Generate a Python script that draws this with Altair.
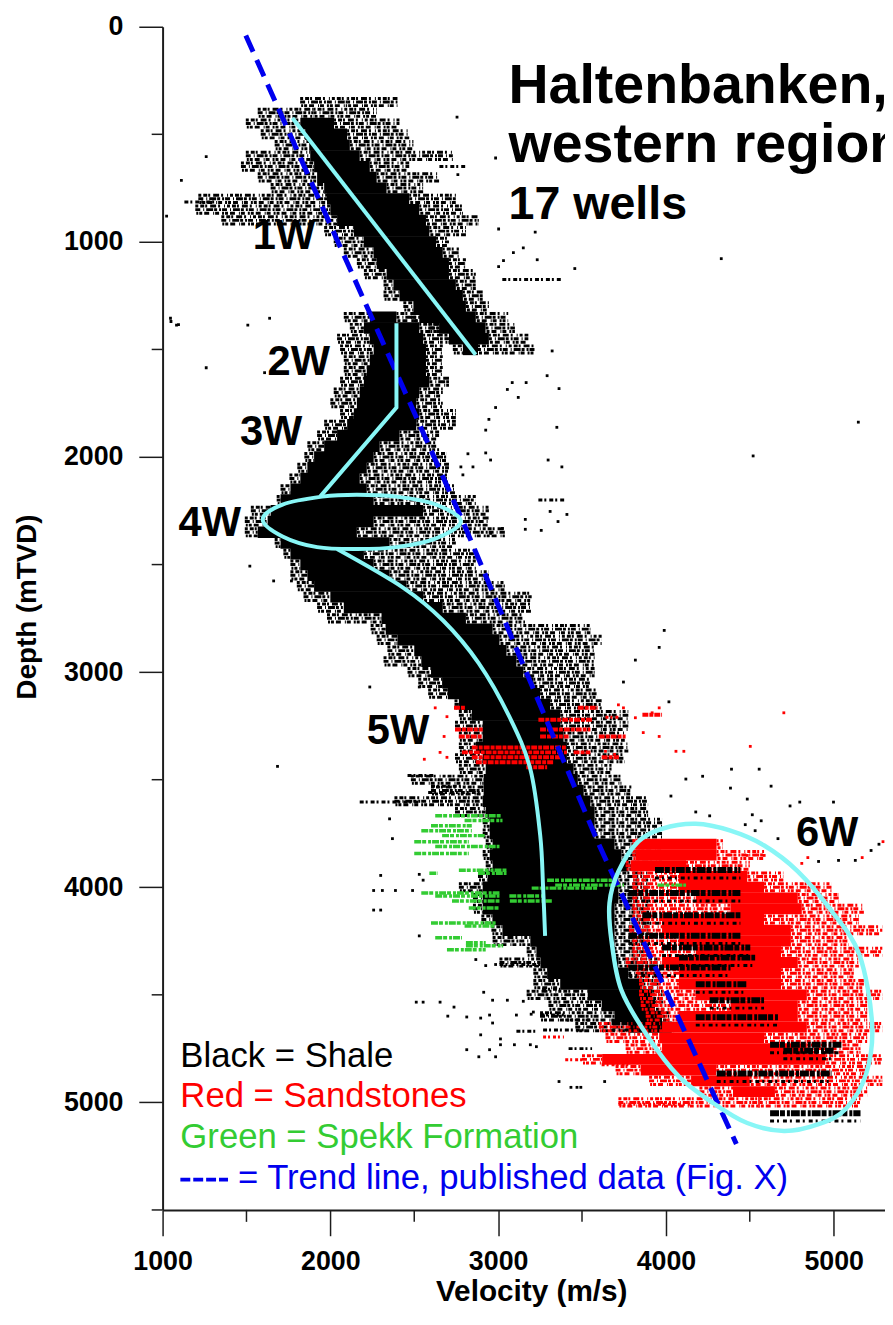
import altair as alt
import pandas as pd

# ---- axis ticks
major_x = [1000, 2000, 3000, 4000, 5000]
minor_x = [1500, 2500, 3500, 4500]
major_y = [0, 1000, 2000, 3000, 4000, 5000]
minor_y = [500, 1500, 2500, 3500, 4500, 5500]

# ---- trend lines (velocity, depth)
trend_published = [(1496, 41), (2790, 2300), (3593, 3788), (4420, 5193)]
trend_1w = [(1774, 424), (2866, 1525)]
trend_2w3w = [(2394, 1378), (2394, 1770), (1939, 2184)]
trend_5w = [(2040, 2428), (2435, 2608), (2672, 2760), (2884, 2958), (3067, 3207),
            (3192, 3451), (3251, 3760), (3268, 4000), (3280, 4226)]
ellipse_4w = [(1597, 2290), (1715, 2221), (1951, 2184), (2158, 2175), (2394, 2184), (2630, 2221),
              (2778, 2299), (2630, 2378), (2394, 2419), (2158, 2428), (1921, 2419), (1715, 2369)]
ellipse_6w = [(3676, 4249), (3664, 4073), (3717, 3926), (3835, 3788), (3977, 3728), (4178, 3705),
              (4385, 3737), (4586, 3806), (4786, 3926), (4987, 4110), (5153, 4313), (5229, 4636),
              (5194, 4866), (5070, 5032), (4910, 5101), (4704, 5133), (4485, 5096), (4284, 5004),
              (4078, 4880), (3894, 4696), (3735, 4479)]

# ---- shale cloud: depth, scatter left, dense left, dense right, scatter right
shale_upper = [
    (350, 1820, 2100, 2100, 2400), (400, 1567, 1900, 1900, 2276), (450, 1496, 1821, 2022, 2412),
    (500, 1585, 1850, 2100, 2470), (550, 1668, 1874, 2116, 2495), (600, 1496, 1880, 2175, 2730),
    (650, 1467, 1903, 2235, 2470), (700, 1567, 1921, 2276, 2648), (750, 1644, 1963, 2335, 2553),
    (800, 1213, 1980, 2470, 2748), (850, 1195, 2000, 2530, 2790), (900, 1350, 2040, 2570, 2885),
    (950, 1963, 2140, 2590, 2808), (1000, 2020, 2200, 2630, 2707), (1050, 2080, 2258, 2670, 2766),
    (1100, 2158, 2276, 2707, 2808), (1150, 2200, 2335, 2707, 2867), (1200, 2317, 2376, 2748, 2867),
    (1250, 2317, 2412, 2790, 2908), (1300, 2435, 2495, 2808, 2945), (1350, 2480, 2530, 2867, 3060),
    (1400, 2590, 2648, 2925, 3100), (1450, 2680, 2707, 2945, 3180), (1500, 2730, 2790, 2880, 3220),
]
shale_lower = [
    (1350, 2080, 2235, 2394, 2650), (1400, 2116, 2200, 2530, 2670), (1450, 2040, 2235, 2553, 2670),
    (1500, 2058, 2258, 2570, 2670), (1550, 2080, 2235, 2570, 2670), (1600, 2080, 2217, 2570, 2670),
    (1650, 2058, 2200, 2590, 2707), (1700, 2020, 2175, 2530, 2670), (1750, 2000, 2158, 2512, 2670),
    (1800, 2058, 2140, 2530, 2748), (1850, 1963, 2100, 2512, 2748), (1900, 1921, 2040, 2412, 2648),
    (1950, 1863, 1963, 2294, 2648), (2000, 1845, 1903, 2258, 2690), (2050, 1803, 1863, 2217, 2707),
    (2100, 1756, 1821, 2175, 2707), (2150, 1703, 1762, 2217, 2748), (2200, 1680, 1703, 2258, 2867),
    (2250, 1526, 1644, 2553, 2945), (2300, 1490, 1626, 2258, 2945), (2350, 1490, 1567, 2158, 3040),
    (2400, 1668, 1703, 2353, 2748), (2450, 1720, 1762, 2200, 2867), (2500, 1762, 1821, 2258, 2867),
    (2550, 1762, 1863, 2353, 2945), (2600, 1800, 1903, 2453, 3040), (2650, 1840, 2000, 2553, 3200),
    (2700, 1921, 2080, 2670, 3200), (2750, 1980, 2305, 2808, 3160), (2800, 2240, 2330, 2967, 3550),
    (2850, 2276, 2400, 3008, 3617), (2900, 2340, 2500, 3050, 3575), (2950, 2317, 2542, 3109, 3575),
    (3000, 2460, 2600, 3150, 3575), (3050, 2524, 2666, 3210, 3550), (3100, 2583, 2700, 3250, 3593),
    (3150, 2740, 2766, 3310, 3617), (3200, 2766, 2843, 3370, 3776), (3250, 2743, 2908, 3370, 3776),
    (3300, 2766, 2908, 3390, 3755), (3350, 2766, 2867, 3410, 3776), (3400, 2743, 2908, 3410, 3755),
    (3450, 2766, 2926, 3450, 3676), (3500, 2480, 2914, 3475, 3735), (3550, 2600, 2914, 3510, 3794),
    (3600, 2382, 2908, 3550, 3894), (3650, 2743, 2926, 3575, 3894), (3700, 2908, 2950, 3575, 3977),
    (3750, 2908, 2950, 3575, 3977), (3800, 2926, 2967, 3694, 3977), (3850, 2908, 2950, 3735, 3977),
    (3900, 2926, 2967, 3776, 3977), (3950, 2880, 2937, 3717, 3900), (4000, 2766, 2908, 3717, 3900),
    (4050, 2850, 2908, 3717, 3900), (4100, 2850, 2908, 3694, 3900), (4150, 2900, 2967, 3694, 3900),
    (4200, 2960, 3026, 3694, 3900), (4250, 2967, 3192, 3694, 3900), (4300, 3170, 3228, 3694, 3900),
    (4350, 3008, 3252, 3717, 3950), (4400, 3210, 3292, 3776, 3950), (4450, 3210, 3370, 3860, 3960),
    (4500, 3170, 3534, 3918, 3980), (4550, 3300, 3617, 3935, 3990), (4600, 3250, 3694, 3977, 4020),
    (4650, 3460, 3776, 4035, 4050),
]

# ---- sandstones in the deep cloud: depth, scatter left, dense left, dense right, scatter right
sand_deep = [
    (3800, 3800, 3818, 4302, 4340), (3850, 3800, 3818, 4302, 4585), (3900, 3760, 3790, 4120, 4500),
    (3950, 3800, 4078, 4485, 4700), (4000, 3800, 4078, 4585, 4987), (4050, 3800, 4178, 4786, 5030),
    (4100, 3800, 4385, 4810, 5180), (4150, 3800, 3977, 4585, 5150), (4200, 3780, 3977, 4745, 5290),
    (4250, 3800, 4078, 4745, 5090), (4300, 3800, 4178, 4686, 5290), (4350, 3760, 3977, 4786, 5150),
    (4400, 3820, 4078, 4686, 5120), (4450, 3840, 4078, 4686, 5180), (4500, 3840, 4178, 4840, 5290),
    (4550, 3850, 4385, 4786, 5200), (4600, 3880, 4078, 4786, 5200), (4650, 3600, 3977, 4840, 5290),
    (4700, 3640, 3960, 4585, 5200), (4750, 3760, 3977, 4840, 5160), (4800, 3500, 3620, 4950, 5290),
    (4850, 3700, 3850, 4300, 5200), (4900, 3900, 4150, 4500, 5290), (4950, 4200, 4400, 4650, 5200),
    (5000, 3717, 4550, 4560, 5160),
]

# ---- horizontal streaks: depth, velocity from, velocity to
sand_upper_streaks = [
    (3166, 2737, 2808), (3166, 3475, 3593), (3198, 3860, 3977), (3221, 3240, 3560), (3267, 2743, 2908),
    (3267, 3250, 3550), (3299, 2766, 2908), (3299, 3250, 3420), (3299, 3600, 3760), (3350, 2843, 3410),
    (3373, 2784, 3410), (3373, 3450, 3550), (3396, 2843, 3370), (3396, 3617, 3720), (3419, 2867, 3333),
    (3442, 3168, 3292),
]
sand_extra_streaks = [(4696, 3268, 3392), (4802, 3400, 3500), (4825, 3617, 3776), (5009, 3717, 4143),
                      (3210, 3640, 3720)]
shale_bands = [
    (3920, 3935, 4444), (4027, 3776, 4444), (4130, 3860, 4444), (4225, 3776, 4444), (4280, 3977, 4503),
    (4327, 4078, 4532), (4373, 3776, 4385), (4451, 4178, 4485), (4525, 4261, 4585), (4604, 4178, 4668),
    (4627, 3676, 3835), (4732, 4621, 5046), (4866, 4303, 4987), (5050, 4621, 5160), (4760, 4700, 5000),
]
shale_streaks = [
    (1175, 3025, 3380), (2200, 3240, 3400), (3480, 2460, 2625), (3604, 2175, 2524), (3560, 2583, 2908),
    (3530, 2600, 2780), (4359, 3008, 3292), (4474, 3262, 3370), (4594, 3250, 3392), (4663, 3268, 3510),
    (4617, 3400, 3550), (4750, 3420, 3560), (4669, 3109, 3230), (815, 1130, 1320), (650, 2650, 2810),
]
spekk_streaks = [
    (3668, 2625, 3026), (3690, 2800, 3026), (3714, 2600, 2843), (3737, 2542, 2843), (3760, 2666, 2926),
    (3788, 2500, 2825), (3811, 2625, 3008), (3843, 2500, 2825), (3921, 2766, 3050), (3935, 2590, 2640),
    (3935, 2880, 3050), (3967, 3292, 3694), (3990, 3340, 3750), (3990, 3950, 4120), (4004, 3200, 3600),
    (4027, 2542, 3008), (4041, 2625, 3008), (4041, 3067, 3268), (4064, 2725, 3008), (4064, 3070, 3320),
    (4096, 2825, 3008), (4166, 2600, 2985), (4180, 2800, 2985), (4235, 2625, 2784), (4258, 2808, 2926),
    (4290, 2695, 2926), (4272, 2808, 3030),
]

# ---- isolated points (velocity, depth)
shale_points = [
    (2755, 420), (1260, 604), (1112, 714), (1024, 880), (1050, 1370), (1095, 1385), (1260, 1585), (4330, 1078),
    (5147, 1838), (4520, 1995), (3003, 940), (3221, 955), (3150, 1028), (3091, 1050), (3032, 1087), (3233, 1083),
    (3003, 1115), (3457, 1124), (2985, 610), (2760, 687), (3322, 1507), (3292, 1622), (3363, 1682), (3167, 1654),
    (3084, 1654), (3055, 1686), (2985, 1770), (3120, 1723), (2945, 1825), (2926, 1875), (3350, 1862), (2820, 1985),
    (2926, 1981), (2955, 2014), (3298, 2014), (3380, 2046), (2778, 2046), (2850, 2046), (2790, 2083), (3310, 2253),
    (3410, 2267), (3162, 2290), (3357, 2300), (3026, 2332), (3162, 2336), (3257, 2341), (2955, 2355), (1520, 2507),
    (1662, 2576), (1768, 2576), (1608, 1608), (1047, 1355), (1083, 1387), (1508, 1387), (1638, 1355), (3990, 2806),
    (3960, 2885), (3818, 2944), (3747, 3046), (4018, 3138), (4391, 3451), (4556, 3451), (4219, 3484), (4119, 3497),
    (4627, 3530), (4385, 3539), (4030, 3576), (4485, 3590), (4740, 3622), (4798, 3604), (4999, 3604), (4178, 3650),
    (4261, 3668), (4515, 3663), (4568, 3691), (4473, 3709), (4532, 3737), (4668, 3774), (5223, 3829), (5029, 3875),
    (5129, 3875), (4910, 3880), (5270, 3800), (2235, 3069), (2530, 3069), (2353, 3682), (1685, 3438), (2370, 3774),
    (2258, 4015), (2310, 4015), (2388, 4015), (2490, 4015), (2258, 4106), (2300, 4106), (2300, 3945), (2530, 3940),
    (2553, 3967), (2530, 4226), (2867, 4336), (2926, 4364), (2985, 4359), (2914, 4488), (2967, 4525), (3055, 4525),
    (3150, 4530), (3210, 4580), (2512, 4534), (2553, 4534), (2654, 4534), (2737, 4557), (2700, 4599), (2813, 4603),
    (2896, 4608), (2949, 4594), (2967, 4631), (3109, 4594), (3197, 4590), (3268, 4594), (2896, 4686), (3014, 4705),
    (3014, 4732), (3097, 4732), (2813, 4755), (2949, 4755), (2985, 4788), (2885, 4788), (3192, 4732), (3228, 4741),
    (3363, 4903), (3434, 4930), (3470, 4930), (3493, 4930), (3635, 4903),
]
sand_points = [
    (4703, 3189), (4503, 3345), (4060, 3368), (4107, 3368), (3960, 3299), (3865, 3281), (3960, 3166), (3717, 3152),
    (3747, 3166), (3918, 3189), (3818, 3212), (3694, 3382), (3640, 3368), (2560, 3405), (2654, 3373), (2678, 3299),
    (2695, 3396), (2695, 3207), (2625, 3166), (5294, 3788), (5170, 3862), (4846, 3862), (4810, 3889), (4586, 3852),
    (4485, 3852),
]

# ---- text
title_lines = ["Haltenbanken,", "western region"]
zone_labels = [("1W", 1538, 1032), ("2W", 1626, 1617), ("3W", 1461, 1945), ("4W", 1095, 2369),
               ("5W", 2217, 3336), ("6W", 4775, 3806)]

W, H = 729, 1194
XS = alt.Scale(domain=[1000, 5306], nice=False, zero=False)
YS = alt.Scale(domain=[0, 5500], reverse=True, nice=False, zero=False)
FONT = "Liberation Sans"
AX = "#1c1c1c"
CYAN = "#88f6f6"
RED = "#ff0000"
GREEN = "#33cc33"
BLUE = "#0000ee"

XAXIS = alt.Axis(values=major_x, format="d", tickSize=26, tickWidth=1.5, tickColor=AX, domainColor=AX,
                 domainWidth=2, grid=False, labelFont=FONT, labelFontSize=27, labelFontWeight="bold",
                 labelColor="black", labelPadding=13, labelFlush=False, labelOverlap=False,
                 titleFont=FONT, titleFontSize=30, titleFontWeight="bold", titleColor="black",
                 titleX=372, titleY=82, titleAlign="center", titleBaseline="middle")
YAXIS = alt.Axis(values=major_y, format="d", tickSize=24, tickWidth=1.5, tickColor=AX, domainColor=AX,
                 domainWidth=2, grid=False, labelFont=FONT, labelFontSize=27, labelFontWeight="bold",
                 labelColor="black", labelPadding=16, labelOverlap=False,
                 titleFont=FONT, titleFontSize=28, titleFontWeight="bold", titleColor="black",
                 titleX=-136, titleY=585, titleAlign="center", titleBaseline="middle")
X = lambda f="v": alt.X(f"{f}:Q", scale=XS, title="Velocity (m/s)", axis=XAXIS)
Y = lambda f="d": alt.Y(f"{f}:Q", scale=YS, title="Depth (mTVD)", axis=YAXIS)


def pts(rows):
    return pd.DataFrame(rows, columns=["v", "d"])


def band(rows):
    return pd.DataFrame(rows, columns=["d", "fl", "l", "r", "fr"])


def streak(rows):
    return pd.DataFrame(rows, columns=["d", "a", "b"])


DASHES = [[3, 2, 4, 1, 2, 3, 6, 2, 2, 4, 1, 2], [2, 1, 5, 3, 1, 2, 7, 1, 3, 2], [4, 3, 2, 1, 3, 2, 5, 4, 1, 1]]


def rules(df, a, b, color, sw, dash=None, yo=0, dashoff=0):
    kw = dict(color=color, strokeWidth=sw, clip=True, yOffset=yo)
    if dash:
        kw.update(strokeDash=dash, strokeDashOffset=dashoff)
    return alt.Chart(df).mark_rule(**kw).encode(x=X(a), x2=alt.X2(b), y=Y())


def fringe(df, color, sw=3):
    out = []
    for i, (yo, ds) in enumerate(zip([-3.6, 0, 3.6], DASHES)):
        out.append(rules(df, "fl", "l", color, sw, ds, yo, i * 3))
        out.append(rules(df, "r", "fr", color, sw, ds, yo, i * 4 + 1))
    return out


def line(rows, color, sw, dash=None, interp="linear"):
    df = pts(rows).assign(i=range(len(rows)))
    kw = dict(color=color, strokeWidth=sw, interpolate=interp, clip=True)
    if dash:
        kw["strokeDash"] = dash
    return alt.Chart(df).mark_line(**kw).encode(x=X(), y=Y(), order="i:Q")


def txt(rows, size, color="black", weight="normal"):
    df = pd.DataFrame(rows, columns=["t", "v", "d"])
    return alt.Chart(df).mark_text(font=FONT, fontSize=size, color=color, fontWeight=weight,
                                   align="left", baseline="alphabetic").encode(x=X(), y=Y(), text="t:N")


up, lo, sd = band(shale_upper), band(shale_lower), band(sand_deep)

layers = []
layers += fringe(up, "black") + fringe(lo, "black")
layers += [rules(up, "l", "r", "black", 11.5), rules(lo, "l", "r", "black", 11.5)]
# deep cloud
layers += [rules(sd, "l", "r", RED, 11)]
layers += fringe(sd, RED, 3)
su = streak(sand_upper_streaks)
layers += [rules(su, "a", "b", RED, 4, [6, 1, 4, 1]),
           rules(streak(sand_extra_streaks), "a", "b", RED, 3, [3, 2, 2, 3])]
sb = streak(shale_bands)
layers += [rules(sb, "a", "b", "black", 6, [9, 1, 5, 2, 3, 1]),
           rules(sb, "a", "b", "black", 3, [4, 3, 2, 4], 8),
           rules(streak(shale_streaks), "a", "b", "black", 3, [4, 2, 2, 3])]
layers += [rules(streak(spekk_streaks), "a", "b", GREEN, 3.5, [7, 1, 4, 2, 3, 1])]
layers += [
    alt.Chart(pts(shale_points)).mark_square(color="black", size=8, opacity=1, clip=True).encode(x=X(), y=Y()),
    alt.Chart(pts(sand_points)).mark_square(color=RED, size=8, opacity=1, clip=True).encode(x=X(), y=Y()),
]
# trends
layers += [line(trend_published, BLUE, 5, [18, 9]),
           line(trend_1w, CYAN, 4), line(trend_2w3w, CYAN, 4), line(trend_5w, CYAN, 4, None, "cardinal"),
           line(ellipse_4w, CYAN, 4, None, "cardinal-closed"),
           line(ellipse_6w, CYAN, 4.5, None, "cardinal-closed")]
# minor ticks
layers += [
    alt.Chart(pd.DataFrame({"v": minor_x})).mark_rule(color=AX, strokeWidth=1.5).encode(
        x=X(), y=alt.value(H), y2=alt.value(H + 12)),
    alt.Chart(pd.DataFrame({"d": minor_y})).mark_rule(color=AX, strokeWidth=1.5).encode(
        y=Y(), x=alt.value(-11), x2=alt.value(0)),
]
# text
layers += [
    txt([(title_lines[0], 3062, 355), (title_lines[1], 3062, 631)], 56, weight="bold"),
    txt([("17 wells", 3062, 894)], 47, weight="bold"),
    txt(zone_labels, 42, weight="bold"),
    txt([("Black = Shale", 1106, 4834)], 35),
    txt([("Red = Sandstones", 1106, 5023)], 35, RED),
    txt([("Green = Spekk Formation", 1106, 5212)], 35, GREEN),
    txt([("= Trend line, published data (Fig. X)", 1449, 5401)], 35, BLUE),
    alt.Chart(pd.DataFrame({"a": [1106], "b": [1390], "d": [5359]})).mark_rule(
        color=BLUE, strokeWidth=4, strokeDash=[10, 3]).encode(x=X("a"), x2=alt.X2("b"), y=Y()),
]

chart = alt.layer(*layers).properties(
    width=W, height=H,
    padding={"left": 156, "top": 13, "right": 0, "bottom": 92},
    autosize=alt.AutoSizeParams(type="none"),
).configure_view(stroke=None)

chart.save("out.html", embed_options={"renderer": "svg", "actions": False})
